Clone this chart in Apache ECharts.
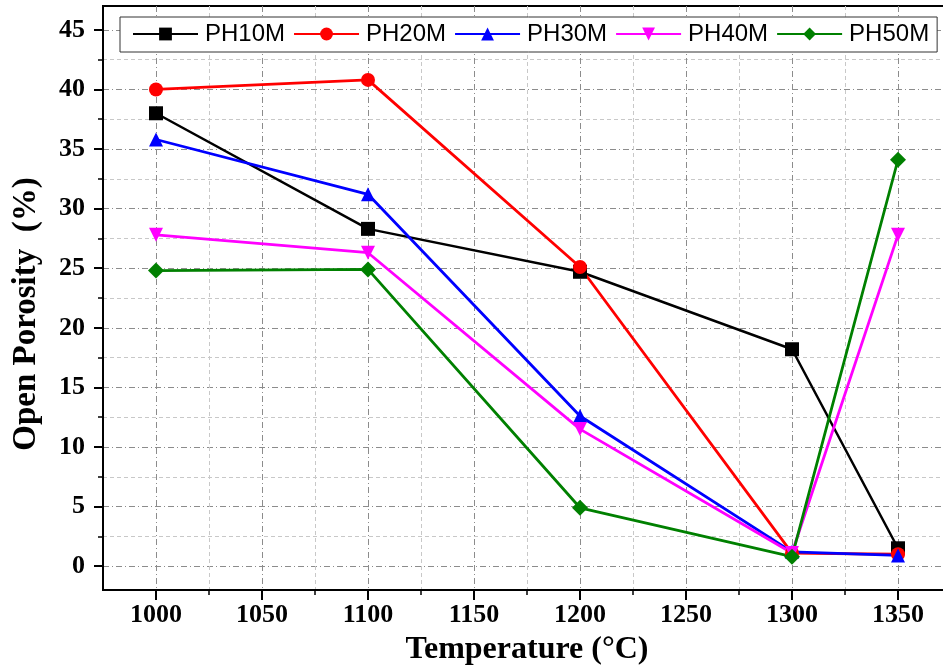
<!DOCTYPE html>
<html>
<head>
<meta charset="utf-8">
<script src="https://cdn.jsdelivr.net/npm/echarts@6/dist/echarts.min.js"></script>
<style>
  html, body { margin: 0; padding: 0; background: #fff; }
  #chart { width: 943px; height: 672px; }
</style>
</head>
<body>
<div id="chart"></div>
<script>
// Sintering temperature (°C) and open porosity (%) per composition
const temperatures = [1000, 1100, 1200, 1300, 1350];
const ph10m = [38.0, 28.3, 24.7, 18.2, 1.5];
const ph20m = [40.0, 40.8, 25.1, 1.1, 1.0];
const ph30m = [35.8, 31.2, 12.6, 1.2, 0.9];
const ph40m = [27.8, 26.3, 11.5, 1.1, 27.8];
const ph50m = [24.8, 24.9, 4.9, 0.8, 34.1];

const xMajorTicks = [1000, 1050, 1100, 1150, 1200, 1250, 1300, 1350];
const xMinorTicks = [1025, 1075, 1125, 1175, 1225, 1275, 1325];
const yMajorTicks = [0, 5, 10, 15, 20, 25, 30, 35, 40, 45];
const yMinorTicks = [2.5, 7.5, 12.5, 17.5, 22.5, 27.5, 32.5, 37.5, 42.5];

const seriesDefs = [
  { name: 'PH10M', values: ph10m, color: '#000000', symbol: 'rect', rotate: 0, width: 2.5 },
  { name: 'PH20M', values: ph20m, color: '#ff0000', symbol: 'circle', rotate: 0, width: 2.8 },
  { name: 'PH30M', values: ph30m, color: '#0000ff', symbol: 'triangle', rotate: 0, width: 2.8 },
  { name: 'PH40M', values: ph40m, color: '#ff00ff', symbol: 'triangle', rotate: 180, width: 2.8 },
  { name: 'PH50M', values: ph50m, color: '#008000', symbol: 'diamond', rotate: 0, width: 2.8 }
];

const serif = 'Liberation Serif, Times New Roman, serif';
const X_MIN = 975, X_MAX = 1375, Y_MIN = -2, Y_MAX = 47;

const majorGrid = { show: true, lineStyle: { color: '#8c8c8c', width: 1, type: [6, 3, 1, 3] } };
const minorGrid = { show: true, lineStyle: { color: '#c8c8c8', width: 1, type: [4, 3] } };
const plain = v => String(v);

const chart = echarts.init(document.getElementById('chart'), null, { renderer: 'canvas' });

chart.setOption({
  animation: false,
  backgroundColor: '#ffffff',
  grid: {
    left: 103, top: 6, width: 848, height: 584,
    outerBoundsMode: 'none', containLabel: false,
    show: true, borderColor: '#000', borderWidth: 2, backgroundColor: 'transparent'
  },
  legend: {
    left: 120, top: 17, width: 830,
    padding: [5, 8, 6, 12],
    backgroundColor: '#fff',
    borderColor: '#333', borderWidth: 1,
    itemWidth: 65, itemHeight: 16, itemGap: 8,
    textStyle: { fontFamily: 'Liberation Sans, Arial, sans-serif', fontSize: 24, color: '#000', padding: [0, 0, 0, 2] },
    data: seriesDefs.map(s => s.name)
  },
  xAxis: [
    {
      type: 'value', min: X_MIN, max: X_MAX, position: 'bottom',
      name: 'Temperature (°C)', nameLocation: 'middle', nameGap: 44,
      nameTextStyle: { fontFamily: serif, fontWeight: 'bold', fontSize: 32, color: '#000' },
      axisLine: { show: true, onZero: false, lineStyle: { color: '#000', width: 2 } },
      axisTick: { show: true, inside: false, length: 10, lineStyle: { color: '#000', width: 2 }, customValues: xMajorTicks },
      axisLabel: { show: true, margin: 12, fontFamily: serif, fontWeight: 'bold', fontSize: 26, color: '#000', customValues: xMajorTicks, formatter: plain },
      splitLine: majorGrid
    },
    {
      type: 'value', min: X_MIN, max: X_MAX, position: 'bottom',
      axisLine: { show: false, onZero: false },
      axisTick: { show: true, inside: false, length: 5, lineStyle: { color: '#000', width: 1.5 }, customValues: xMinorTicks },
      axisLabel: { show: false },
      splitLine: minorGrid
    }
  ],
  yAxis: [
    {
      type: 'value', min: Y_MIN, max: Y_MAX, position: 'left',
      name: 'Open Porosity  (%)', nameLocation: 'middle', nameGap: 60, nameRotate: 90,
      nameTextStyle: { fontFamily: serif, fontWeight: 'bold', fontSize: 33, color: '#000', padding: [0, 32, 0, 0] },
      axisLine: { show: true, onZero: false, lineStyle: { color: '#000', width: 2 } },
      axisTick: { show: true, inside: false, length: 9, lineStyle: { color: '#000', width: 2 }, customValues: yMajorTicks },
      axisLabel: { show: true, margin: 18, fontFamily: serif, fontWeight: 'bold', fontSize: 26, color: '#000', customValues: yMajorTicks, formatter: plain },
      splitLine: majorGrid
    },
    {
      type: 'value', min: Y_MIN, max: Y_MAX, position: 'left',
      axisLine: { show: false, onZero: false },
      axisTick: { show: true, inside: false, length: 5, lineStyle: { color: '#000', width: 1.5 }, customValues: yMinorTicks },
      axisLabel: { show: false },
      splitLine: minorGrid
    }
  ],
  series: seriesDefs.map(s => ({
    name: s.name,
    type: 'line',
    xAxisIndex: 0, yAxisIndex: 0,
    data: temperatures.map((t, i) => [t, s.values[i]]),
    symbol: s.symbol,
    symbolRotate: s.rotate,
    symbolSize: s.symbol === 'diamond' ? 16 : 14,
    showAllSymbol: true,
    color: s.color,
    lineStyle: { color: s.color, width: s.width },
    itemStyle: { color: s.color, borderWidth: 0 },
    emphasis: { disabled: true }
  }))
});
</script>
</body>
</html>
